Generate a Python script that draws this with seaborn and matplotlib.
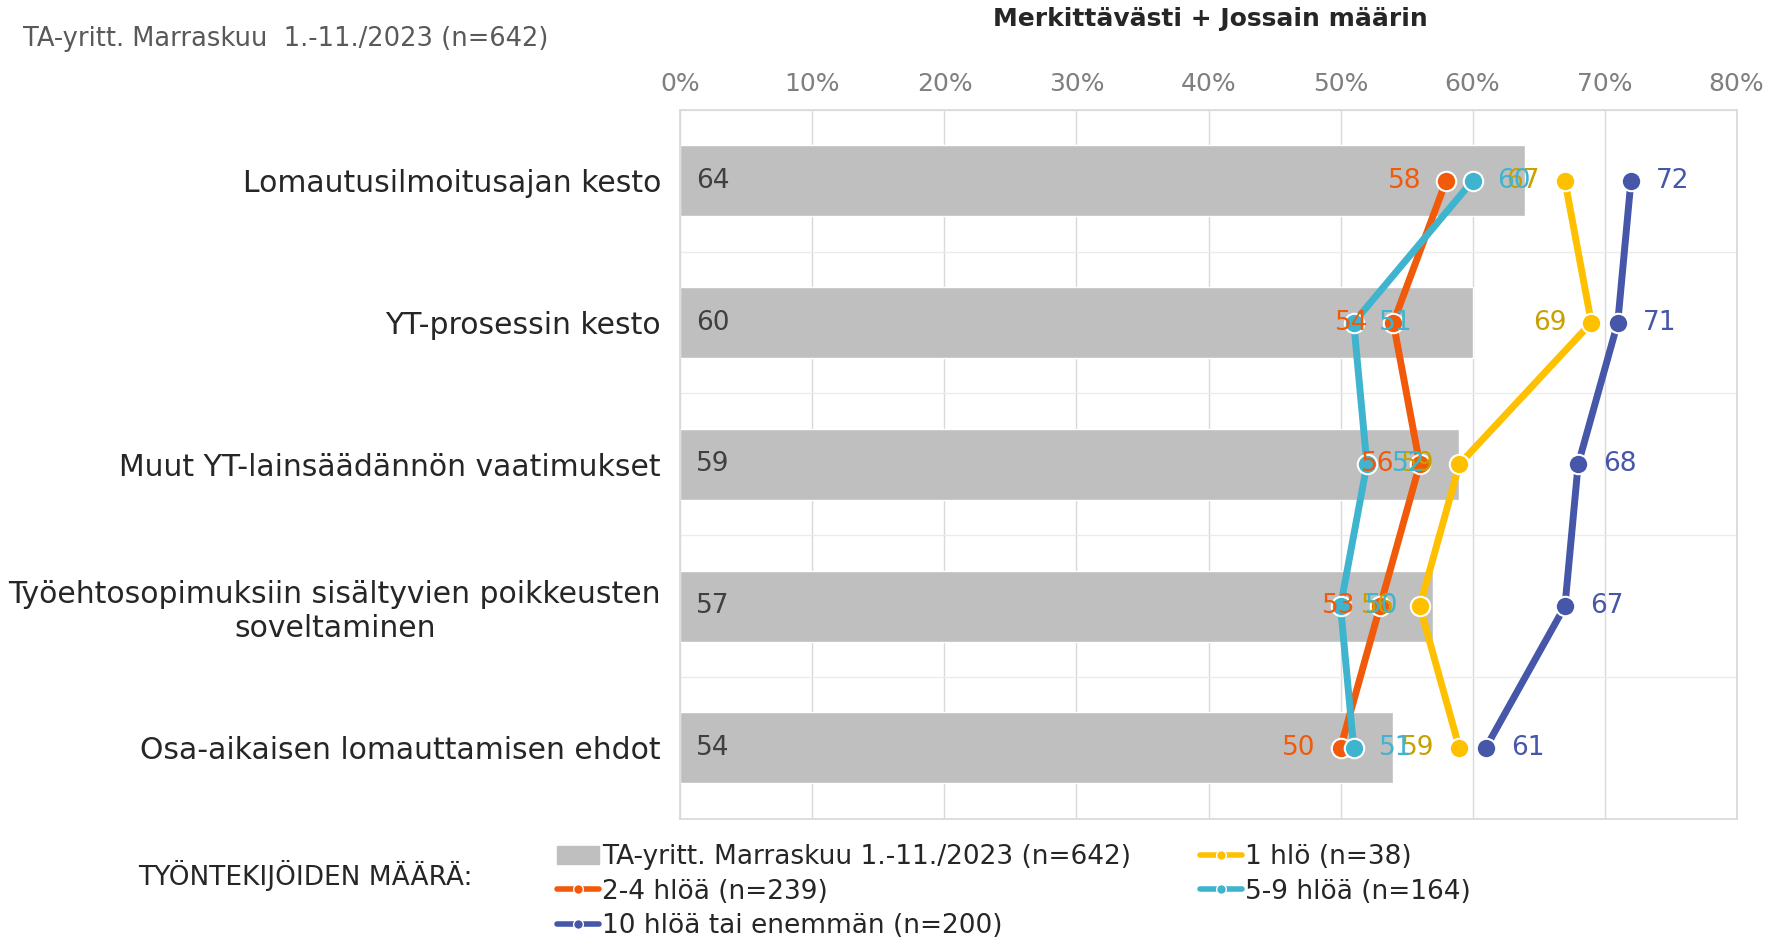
import numpy as np
import pandas as pd
import matplotlib
matplotlib.use("Agg")
import matplotlib.pyplot as plt
import seaborn as sns
from matplotlib.lines import Line2D
from matplotlib.patches import Patch

sns.set_theme(style="white")
plt.rcParams['font.family'] = ['DejaVu Sans']

# --- data ---
categories = [
    "Lomautusilmoitusajan kesto",
    "YT-prosessin kesto",
    "Muut YT-lainsäädännön vaatimukset",
    "Työehtosopimuksiin sisältyvien poikkeusten\nsoveltaminen",
    "Osa-aikaisen lomauttamisen ehdot",
]
total = [64, 60, 59, 57, 54]
hlo_1 = [67, 69, 59, 56, 59]
hlo_2_4 = [58, 54, 56, 53, 50]
hlo_5_9 = [60, 51, 52, 50, 51]
hlo_10 = [72, 71, 68, 67, 61]

bar_label = "TA-yritt. Marraskuu 1.-11./2023 (n=642)"
series = [
    ("1 hlö (n=38)", hlo_1, "#FFC000", "#C9A000", -1),
    ("2-4 hlöä (n=239)", hlo_2_4, "#F05A0A", "#F05A0A", -1),
    ("5-9 hlöä (n=164)", hlo_5_9, "#3FB4CE", "#3FB4CE", 1),
    ("10 hlöä tai enemmän (n=200)", hlo_10, "#4656A8", "#4656A8", 1),
]

fig = plt.figure(figsize=(17.72, 9.4), dpi=100)
ax = fig.add_axes([0.384, 0.129, 0.596, 0.754])

df = pd.DataFrame({"kategoria": categories, "arvo": total})
sns.barplot(data=df, x="arvo", y="kategoria", orient="h", color="#BFBFBF",
            width=0.5, saturation=1, ax=ax)

for name, vals, col, lcol, side in series:
    d = pd.DataFrame({"kategoria": categories, "arvo": vals})
    sns.pointplot(data=d, x="arvo", y="kategoria", orient="h", color=col,
                  linewidth=5, markersize=14, markeredgecolor="white",
                  markeredgewidth=1.5, ax=ax)

# data labels
for i, v in enumerate(total):
    ax.text(1.2, i, str(v), va="center", ha="left", fontsize=19, color="#404040")
for name, vals, col, lcol, side in series:
    for i, v in enumerate(vals):
        ax.annotate(str(v), (v, i), xytext=(side * 30, 0), textcoords="offset points",
                    ha="center", va="center", fontsize=19, color=lcol, zorder=10)

ax.set_xlim(0, 80)
ax.set_ylim(4.5, -0.5)
ax.xaxis.tick_top()
ax.set_xticks(np.arange(0, 81, 10))
ax.set_xticklabels([f"{t}%" for t in range(0, 81, 10)], fontsize=18, color="#7F7F7F")
ax.tick_params(axis="x", length=0, pad=10)
ax.tick_params(axis="y", length=0, pad=14)
for lbl in ax.get_yticklabels():
    lbl.set_fontsize(21.5)
    lbl.set_color("#262626")
    lbl.set_multialignment("center")
ax.set_xlabel("")
ax.set_ylabel("")
ax.grid(axis="x", color="#D9D9D9", linewidth=1)
ax.set_yticks(np.arange(-0.5, 5, 1), minor=True)
ax.grid(axis="y", which="minor", color="#EBEBEB", linewidth=1)
ax.set_axisbelow(True)
for s in ax.spines.values():
    s.set_color("#D9D9D9")

fig.text(0.683, 0.98, "Merkittävästi + Jossain määrin", ha="center", va="center",
         fontsize=18, fontweight="bold", color="#262626")
fig.text(0.013, 0.958, "TA-yritt. Marraskuu  1.-11./2023 (n=642)", ha="left", va="center",
         fontsize=18.5, color="#595959")
fig.text(0.078, 0.069, "TYÖNTEKIJÖIDEN MÄÄRÄ:", ha="left", va="center",
         fontsize=19, color="#262626")

def line_handle(c):
    return Line2D([], [], color=c, linewidth=4, marker="o", markersize=7,
                  markeredgecolor="white")

handles = [Patch(color="#BFBFBF"), line_handle(series[1][2]), line_handle(series[3][2]),
           line_handle(series[0][2]), line_handle(series[2][2])]
labels = [bar_label, series[1][0], series[3][0], series[0][0], series[2][0]]
fig.legend(handles, labels, loc="upper left", bbox_to_anchor=(0.307, 0.116), ncol=2,
           frameon=False, fontsize=19, handlelength=1.6, handletextpad=0.1,
           columnspacing=2.6, labelspacing=0.32, borderpad=0, labelcolor="#262626")

fig.savefig("out.png", dpi=100)
